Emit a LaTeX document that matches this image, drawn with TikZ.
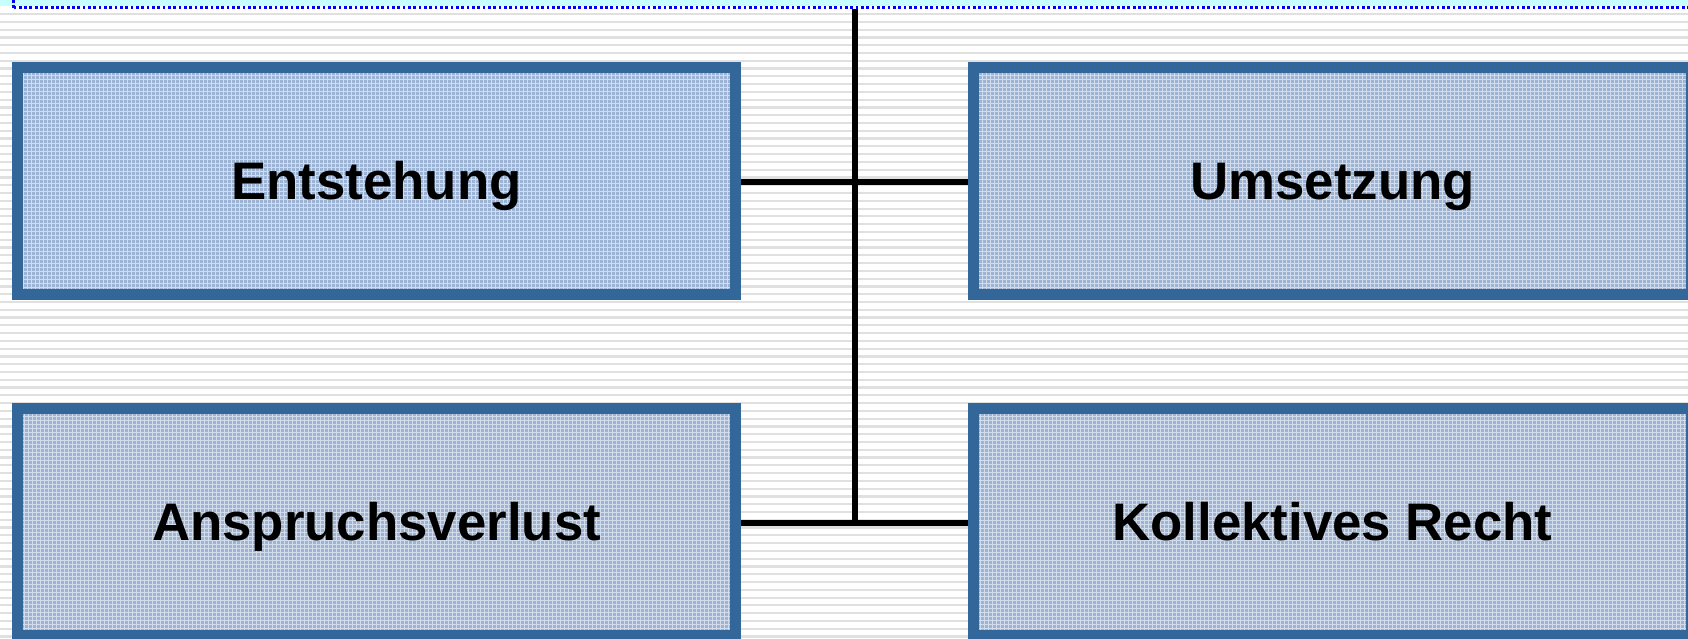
\documentclass[tikz,border=0pt]{standalone}
\usepackage{fontspec}
\setmainfont{Liberation Sans}
\definecolor{bordblue}{HTML}{336699}
\definecolor{boxfill}{HTML}{9CB3D4}
\definecolor{stripegray}{HTML}{E0E0E0}
\definecolor{topcyan}{HTML}{C6FFFF}
\definecolor{dotblue}{HTML}{0000F8}
\tikzset{
  boxstyle/.style={draw=bordblue, line width=11pt, fill=boxfill,
    minimum width=718pt, minimum height=227pt, inner sep=0pt,
    text height=37.5pt, text depth=0pt,
    font=\fontsize{52.8}{60}\selectfont\bfseries,
    path picture={
      \draw[white, opacity=0.55, line width=0.9pt]
        ([shift={(-4pt,-4pt)}]path picture bounding box.south west) grid[step=4pt]
        ([shift={(4pt,4pt)}]path picture bounding box.north east);
    }},
  conn/.style={draw=black, line width=6pt},
  dotline/.style={draw=dotblue, line width=3.2pt, dash pattern=on 2.7pt off 2.63pt}
}
\begin{document}
\begin{tikzpicture}[x=1pt,y=-1pt]
\useasboundingbox (0,0) rectangle (1688,638);
\clip (0,0) rectangle (1688,638);
% background
\fill[white] (0,0) rectangle (1688,638);
\foreach \i in {0,...,80} {
  \fill[stripegray] (0,{13+7.78*\i}) rectangle (1688,{15.2+7.78*\i});
}
\fill[topcyan] (0,0) rectangle (1688,6);
\draw[dotline] (13.5,7.5) -- (1688,7.5);
\draw[dotline] (13.5,0) -- (13.5,7.5);
% boxes
\node[boxstyle] (ent) at (376.5,181) {Entstehung};
\node[boxstyle] (ums) at (1332.5,181) {Umsetzung};
\node[boxstyle] (ans) at (376.5,521.5) {Anspruchsverlust};
\node[boxstyle] (kol) at (1332.5,521.5) {Kollektives Recht};
% connectors
\coordinate (top) at (855,9);
\coordinate (jt) at (855,181.5);
\coordinate (jb) at (855,526);
\draw[conn] (top) -- (jb);
\draw[conn] (ent.east |- jt) -- (ums.west |- jt);
\draw[conn] (ans.east |- 0,523) -- (kol.west |- 0,523);
\end{tikzpicture}
\end{document}
